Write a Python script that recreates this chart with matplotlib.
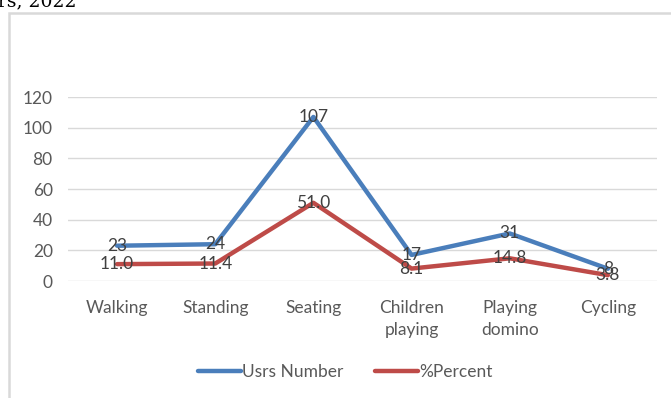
import matplotlib.pyplot as plt
from matplotlib.patches import Rectangle

# Activity categories and the two observed series
activities = ["Walking", "Standing", "Seating", "Children\nplaying", "Playing\ndomino", "Cycling"]
users_number = [23, 24, 107, 17, 31, 8]
percent = [11.0, 11.4, 51.0, 8.1, 14.8, 3.8]
user_labels = ["23", "24", "107", "17", "31", "8"]
percent_labels = ["11.0", "11.4", "51.0", "8.1", "14.8", "3.8"]
y_ticks = [0, 20, 40, 60, 80, 100, 120]

BLUE = "#4A7EBB"
RED = "#BE4B48"
TEXT = "#595959"

plt.rcParams['font.family'] = ['Lato', 'DejaVu Sans']

fig = plt.figure(figsize=(6.71, 3.98), dpi=100)

# frame of the chart area
fig.patches.append(Rectangle((9 / 671, -0.1), 1.2, 1 - 13 / 398 + 0.1,
                             transform=fig.transFigure, fill=False,
                             edgecolor="#D9D9D9", linewidth=1.8))

# caption remnant above the chart
fig.text(-2 / 671, 1 - 6 / 398, "rs, 2022", family="DejaVu Serif",
         fontsize=13.5, color="black", ha="left", va="baseline")

ax = fig.add_axes([68 / 671, 1 - 281 / 398, 589 / 671, 184 / 398])
x = range(len(activities))

ax.plot(x, users_number, color=BLUE, linewidth=3.2, solid_capstyle="round",
        label="Usrs Number", zorder=3)
ax.plot(x, percent, color=RED, linewidth=3.2, solid_capstyle="round",
        label="%Percent", zorder=3)

for i, lab in enumerate(user_labels):
    ax.text(i, users_number[i], lab, ha="center", va="center",
            fontsize=12.5, color="#404040", zorder=4)
for i, lab in enumerate(percent_labels):
    ax.text(i, percent[i], lab, ha="center", va="center",
            fontsize=12.5, color="#404040", zorder=4)

ax.set_xlim(-0.5, len(activities) - 0.5)
ax.set_ylim(0, 120)
ax.set_yticks(y_ticks)
ax.set_xticks(list(x))
ax.set_xticklabels(activities, linespacing=1.45)
ax.grid(axis="y", color="#D9D9D9", linewidth=1)
ax.set_axisbelow(True)
for side in ["top", "right", "left", "bottom"]:
    ax.spines[side].set_visible(False)
ax.tick_params(axis="both", length=0, colors=TEXT, labelsize=12.5)
ax.tick_params(axis="y", pad=11)
ax.tick_params(axis="x", pad=14)

fig.legend(loc="center", bbox_to_anchor=(345 / 671, 1 - 372 / 398),
           ncol=2, frameon=False, fontsize=12.5, labelcolor=TEXT,
           handlelength=2.5, handletextpad=0.05, columnspacing=1.8)

fig.savefig("out.png", dpi=100)
